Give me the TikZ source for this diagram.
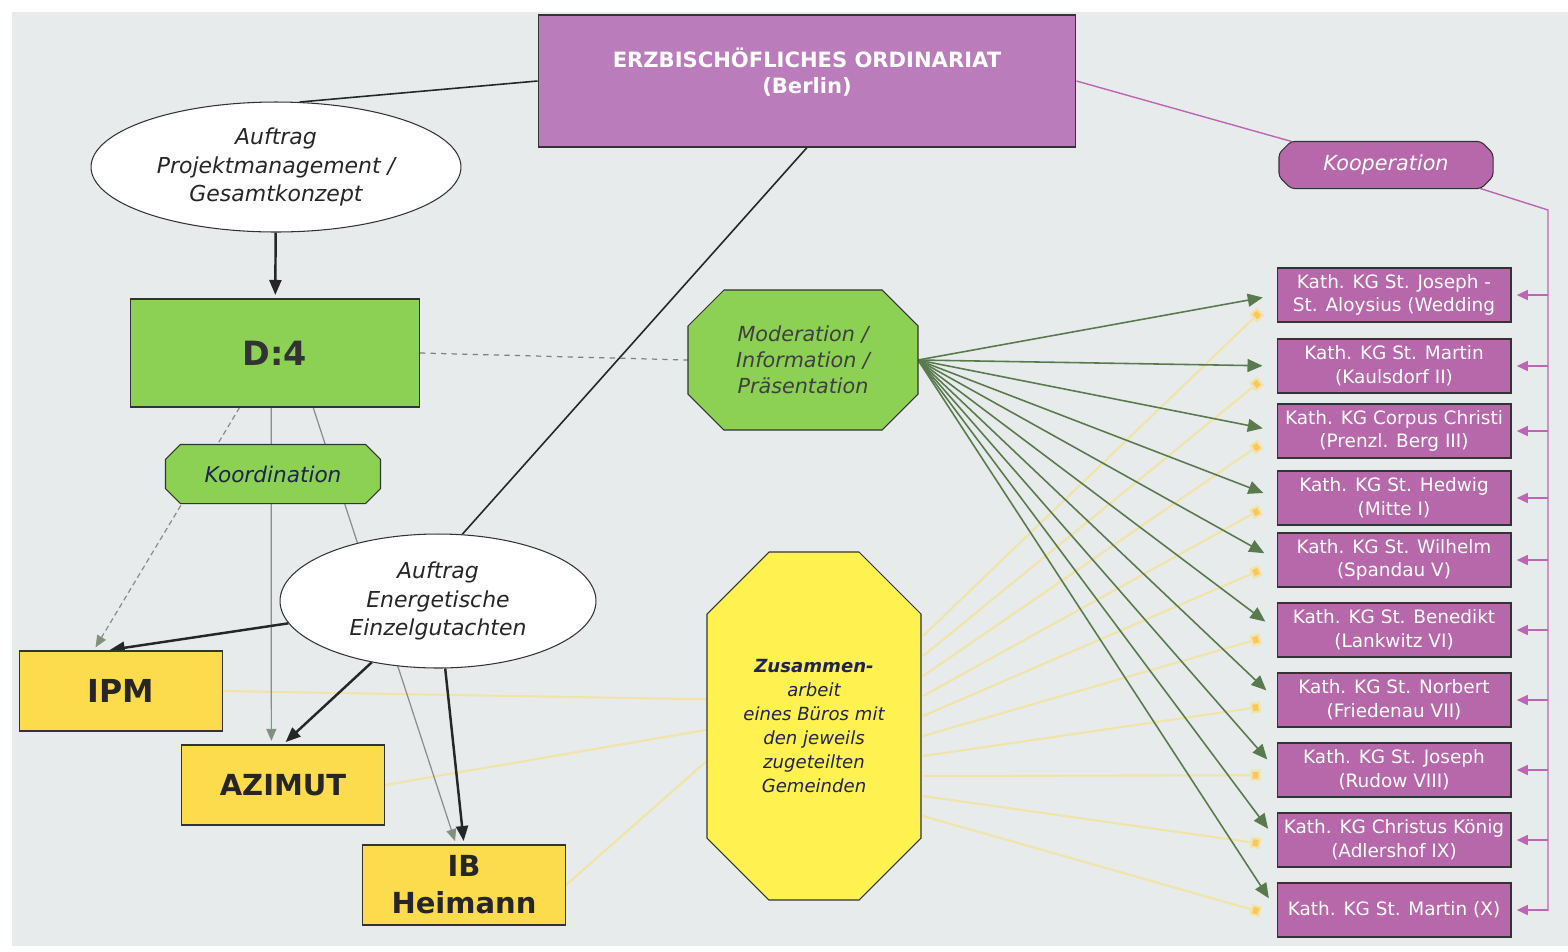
\documentclass[tikz,border=0pt]{standalone}
\usepackage{fontspec}
\setmainfont{DejaVu Sans}
\usepackage{tikz}
\usetikzlibrary{shapes.geometric, arrows.meta, calc}

\definecolor{bggrey}{RGB}{232,235,235}
\definecolor{ordpurple}{RGB}{186,124,186}
\definecolor{kgpurple}{RGB}{183,104,170}
\definecolor{boxgreen}{RGB}{140,208,84}
\definecolor{boxyellow}{RGB}{252,220,76}
\definecolor{zusyellow}{RGB}{255,241,80}
\definecolor{arrowgreen}{RGB}{88,122,78}
\definecolor{faintyellow}{RGB}{240,228,168}
\definecolor{tipyellow}{RGB}{250,200,90}
\definecolor{linepurple}{RGB}{190,100,180}
\definecolor{textnavy}{RGB}{30,35,80}

\tikzset{
    every node/.style={draw=black!80, line width=0.6pt, align=center, inner sep=1pt}
}
\tikzset{
    ordbox/.style={rectangle, fill=ordpurple, text=white, minimum width=10.76cm,
        minimum height=2.64cm, text depth=0.42cm,
        font=\fontsize{12}{15}\selectfont\bfseries},
    auftrag/.style={ellipse, fill=white, inner sep=0pt, text=black!85,
        font=\fontsize{12.5}{16}\selectfont\itshape},
    greenbox/.style={rectangle, fill=boxgreen, text=black!80, minimum width=5.78cm,
        minimum height=2.16cm, font=\fontsize{19}{22}\selectfont\bfseries},
    yellowbox/.style={rectangle, fill=boxyellow, text=black!85, minimum width=4.06cm,
        minimum height=1.6cm, font=\fontsize{16.5}{21}\selectfont\bfseries},
    octatext/.style={rectangle, draw=none, fill=none},
    octaline/.style={draw=black!80, line width=0.6pt},
    kgbox/.style={rectangle, fill=kgpurple, text=white, minimum width=4.68cm,
        minimum height=1.08cm, font=\fontsize{10.5}{13.5}\selectfont}
}
\tikzset{
    plainline/.style={draw=black!85, line width=0.9pt},
    blackarrow/.style={draw=black!85, line width=1.4pt,
        -{Triangle[length=0.3cm, width=0.24cm]}, shorten >=2pt},
    greyarrow/.style={draw=black!45, line width=0.7pt,
        -{Triangle[length=0.24cm, width=0.2cm, fill=arrowgreen!80]}, shorten >=2pt},
    dashline/.style={draw=black!50, line width=0.7pt, dashed},
    greenarrow/.style={draw=arrowgreen, line width=0.9pt,
        -{Triangle[length=0.3cm, width=0.26cm]}, shorten >=0.28cm},
    faintline/.style={draw=faintyellow, line width=1.2pt},
    koopline/.style={draw=linepurple, line width=0.8pt},
    kooparrow/.style={draw=linepurple, line width=0.8pt,
        -{Triangle[length=0.22cm, width=0.2cm]}, shorten >=3pt}
}
% octagon round a node: node, cut (px), style
\newcommand{\octapath}[3]{%
  \path [#3] ($(#1.north west)+(#2,0)$) -- ($(#1.north east)+(-#2,0)$)
    -- ($(#1.north east)+(0,#2)$) -- ($(#1.south east)+(0,-#2)$)
    -- ($(#1.south east)+(-#2,0)$) -- ($(#1.south west)+(#2,0)$)
    -- ($(#1.south west)+(0,-#2)$) -- ($(#1.north west)+(0,#2)$) -- cycle;}
\pgfdeclarelayer{background}
\pgfdeclarelayer{shapes}
\pgfsetlayers{background,shapes,main}

\begin{document}
\begin{tikzpicture}[x=0.02cm, y=-0.02cm]
  \useasboundingbox (0, 0) rectangle (1568, 951);

  \node (ordinariat) [ordbox] at (807, 81) {ERZBISCHÖFLICHES ORDINARIAT\\(Berlin)};
  \node (auftragPM) [auftrag, minimum width=7.4cm, minimum height=2.6cm] at (276, 167)
    {Auftrag\\Projektmanagement /\\Gesamtkonzept};
  \node (d4) [greenbox] at (275, 353) {D:4};
  \node (koordination) [octatext, minimum width=4.28cm, minimum height=1.16cm,
    text=textnavy, font=\fontsize{12.3}{14}\selectfont\itshape] at (273, 474)
    {Koordination};
  \node (moderation) [octatext, minimum width=4.58cm, minimum height=2.78cm,
    text=black!75, font=\fontsize{11.8}{14.8}\selectfont\itshape] at (803, 360)
    {Moderation /\\Information /\\Präsentation};
  \node (auftragEG) [auftrag, minimum width=6.32cm, minimum height=2.68cm] at (438, 601)
    {Auftrag\\Energetische\\Einzelgutachten};
  \node (ipm) [yellowbox, font=\fontsize{18}{21}\selectfont\bfseries] at (121, 691) {IPM};
  \node (azimut) [yellowbox] at (283, 785) {AZIMUT};
  \node (ib) [yellowbox] at (464, 885) {IB\\Heimann};
  \node (zusammen) [octatext, minimum width=4.26cm, minimum height=6.94cm,
    text=textnavy, font=\fontsize{10.3}{13.6}\selectfont\itshape] at (814, 726)
    {\textbf{Zusammen-}\\arbeit\\eines Büros mit\\den jeweils\\zugeteilten\\Gemeinden};
  \node (kooperation) [octatext, minimum width=4.26cm, minimum height=0.92cm,
    text=white, font=\fontsize{11.8}{14}\selectfont\itshape] at (1386, 165)
    {Kooperation};

  \foreach \i/\y/\txt in {1/295/{Kath. KG St. Joseph -\\St. Aloysius (Wedding},
      2/366/{Kath. KG St. Martin\\(Kaulsdorf II)},
      3/431/{Kath. KG Corpus Christi\\(Prenzl. Berg III)},
      4/498/{Kath. KG St. Hedwig\\(Mitte I)},
      5/560/{Kath. KG St. Wilhelm\\(Spandau V)},
      6/630/{Kath. KG St. Benedikt\\(Lankwitz VI)},
      7/700/{Kath. KG St. Norbert\\(Friedenau VII)},
      8/770/{Kath. KG St. Joseph\\(Rudow VIII)},
      9/840/{Kath. KG Christus König\\(Adlershof IX)},
      10/910/{Kath. KG St. Martin (X)}}
    \node (k\i) [kgbox] at (1394, \y) {\txt};

  \coordinate (koopcorner) at (1548, 210);
  \coordinate (koopend) at (1548, 911);

  \begin{pgfonlayer}{shapes}
    \octapath{koordination}{15}{octaline, fill=boxgreen}
    \octapath{moderation}{36}{octaline, fill=boxgreen}
    \octapath{zusammen}{62}{octaline, fill=zusyellow}
    \octapath{kooperation}{12}{octaline, fill=kgpurple, rounded corners=2pt}
  \end{pgfonlayer}

  \begin{pgfonlayer}{background}
    \fill [bggrey] (12, 12) rectangle (1568, 946);

    \draw [faintline] (ipm.east) -- (zusammen.166);
    \draw [faintline] (azimut.east) -- (zusammen.182);
    \draw [faintline] (ib.east) -- (zusammen.198);
    \foreach \i in {1,...,10}
      \draw [faintline, -{Square[length=0.2cm, width=0.22cm, fill=tipyellow]}]
        ($(zusammen.east)+(2, {(\i-5.5)*20})$) -- ($(k\i.west)+(-16, {18-1.6*\i})$);

    \draw [plainline] (ordinariat.west) -- (auftragPM.70);
    \draw [blackarrow] (auftragPM) -- (d4);
    \draw [plainline] (ordinariat.south) -- (auftragEG.70);
    \draw [dashline] (d4.east) -- (moderation.west);

    \draw [greyarrow, densely dashed] (d4.237) -- (ipm.124);
    \draw [greyarrow] (d4.266) -- (azimut.106);
    \draw [greyarrow] (d4.305) -- (ib.101);
    \draw [blackarrow] (auftragEG) -- (ipm.110);
    \draw [blackarrow] (auftragEG) -- (azimut.north);
    \draw [blackarrow] (auftragEG) -- (ib.north);

    \foreach \i in {1,...,10}
      \draw [greenarrow] (moderation.east) -- (k\i.west);

    \draw [koopline] (ordinariat.east) -- (kooperation.166);
    \draw [koopline] (kooperation.-14) -- (koopcorner) -- (koopend);
    \foreach \i in {1,...,10}
      \draw [kooparrow] (koopcorner |- k\i) -- (k\i.east);
  \end{pgfonlayer}
\end{tikzpicture}
\end{document}
